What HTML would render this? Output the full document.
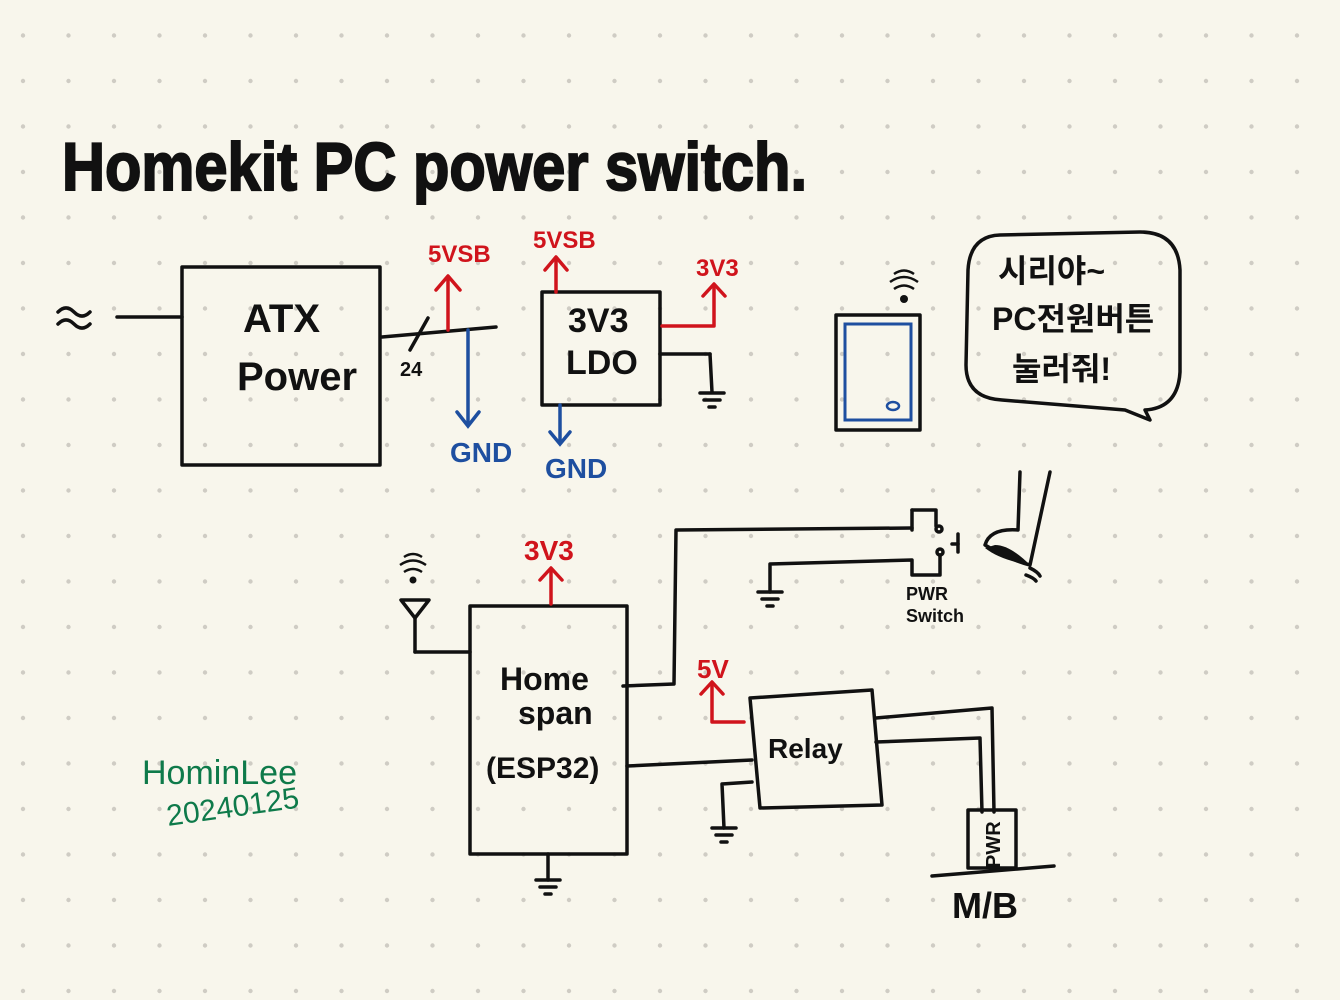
<!DOCTYPE html>
<html><head><meta charset="utf-8"><style>
html,body{margin:0;padding:0;background:#f8f6ec}
svg{display:block}
text{font-family:"Liberation Sans","Noto Sans CJK KR",sans-serif}
</style></head><body>
<svg width="1340" height="1000" viewBox="0 0 1340 1000" xmlns="http://www.w3.org/2000/svg">
<defs>
<pattern id="dots" x="0" y="12.5" width="45.5" height="45.5" patternUnits="userSpaceOnUse">
<circle cx="23" cy="23" r="2.2" fill="#cfccc4"/></pattern>
</defs>
<rect width="1340" height="1000" fill="#f8f6ec"/>
<rect width="1340" height="1000" fill="url(#dots)"/>
<text x="62" y="190" font-size="68" font-weight="bold" fill="#111" textLength="745" lengthAdjust="spacingAndGlyphs" stroke="#111" stroke-width="2">Homekit PC power switch.</text>

<g fill="none" stroke="#111" stroke-width="3.5" stroke-linecap="round" stroke-linejoin="round">
<path d="M58 312 q8 -8 16 0 q8 8 16 0 M58 324 q8 -8 16 0 q8 8 16 0"/>
<line x1="117" y1="317" x2="182" y2="317"/>
<rect x="182" y="267" width="198" height="198"/>
<line x1="382" y1="337" x2="496" y2="327"/>
<line x1="410" y1="350" x2="428" y2="318"/>
<rect x="542" y="292" width="118" height="113"/>
<line x1="660" y1="354" x2="710" y2="354"/><line x1="710" y1="354" x2="712" y2="392"/>
<line x1="700" y1="393" x2="724" y2="393"/><line x1="704" y1="400" x2="720" y2="400"/><line x1="709" y1="407" x2="715" y2="407"/>
<rect x="836" y="315" width="84" height="115"/>
<path d="M1000 235 L1140 232 Q1178 232 1180 270 L1180 372 Q1178 408 1145 410 L1150 420 L1125 410 L1002 400 Q966 398 966 365 L968 270 Q970 236 1000 235 Z"/>
<rect x="470" y="606" width="157" height="248"/>
<line x1="470" y1="652" x2="415" y2="652"/><line x1="415" y1="652" x2="415" y2="618"/>
<path d="M401 600 L429 600 L415 618 Z"/>
<line x1="548" y1="854" x2="548" y2="880"/>
<line x1="536" y1="880" x2="560" y2="880"/><line x1="540" y1="887" x2="556" y2="887"/><line x1="545" y1="894" x2="551" y2="894"/>
<polyline points="623,686 674,684 676,530 912,528"/>
<polyline points="912,510 936,510 936,526"/>
<polyline points="912,510 912,530"/>
<circle cx="939" cy="529" r="3"/>
<circle cx="940" cy="552" r="3"/>
<polyline points="940,555 940,575 912,575 912,560 770,564 770,592"/>
<line x1="958" y1="534" x2="958" y2="552"/><line x1="952" y1="544" x2="958" y2="544"/>
<line x1="758" y1="592" x2="782" y2="592"/><line x1="762" y1="599" x2="778" y2="599"/><line x1="767" y1="606" x2="773" y2="606"/>
<path d="M1020 472 L1018 530 Q990 528 985 545 Q1010 560 1030 565 L1050 472"/>
<path d="M1030 568 q8 4 10 8 M1026 575 q8 3 10 6"/>
<path d="M750 698 L872 690 L882 805 L760 808 Z"/>
<line x1="627" y1="766" x2="752" y2="760"/>
<polyline points="752,782 722,784 724,828"/>
<line x1="712" y1="828" x2="736" y2="828"/><line x1="716" y1="835" x2="732" y2="835"/><line x1="721" y1="842" x2="727" y2="842"/>
<polyline points="876,718 992,708 994,812"/>
<polyline points="876,742 980,738 982,812"/>
<rect x="968" y="810" width="48" height="58"/>
<line x1="932" y1="876" x2="1054" y2="866"/>
</g>
<g fill="#111" stroke="none">
<path d="M995 545 Q1010 545 1030 565 Q1000 560 985 548 Z"/>
<circle cx="904" cy="299" r="4"/><circle cx="413" cy="580" r="3.5"/>
</g>
<g fill="none" stroke="#111" stroke-width="2.5">
<path d="M894 289 q10 -7 20 0 M890 282 q14 -10 28 0 M894 274 q10 -7 20 0"/>
<path d="M404 572 q9 -6 18 0 M400 565 q13 -9 26 0 M404 557 q9 -6 18 0"/>
</g>
<rect x="845" y="324" width="66" height="96" fill="none" stroke="#1e4fa0" stroke-width="3"/>
<ellipse cx="893" cy="406" rx="6" ry="4" fill="none" stroke="#1e4fa0" stroke-width="2.5"/>

<g fill="none" stroke="#d0141c" stroke-width="3.5" stroke-linecap="round" stroke-linejoin="round">
<line x1="448" y1="330" x2="448" y2="278"/><polyline points="436,290 448,276 460,290"/>
<line x1="556" y1="292" x2="556" y2="260"/><polyline points="545,270 556,257 567,270"/>
<polyline points="662,326 714,326 714,286"/><polyline points="703,296 714,284 725,296"/>
<line x1="551" y1="604" x2="551" y2="570"/><polyline points="540,580 551,568 562,580"/>
<polyline points="744,722 712,722 712,684"/><polyline points="701,694 712,682 723,694"/>
</g>
<g fill="none" stroke="#1e4fa0" stroke-width="3.5" stroke-linecap="round">
<line x1="468" y1="330" x2="468" y2="425"/><polyline points="457,412 468,426 479,412"/>
<line x1="560" y1="405" x2="560" y2="442"/><polyline points="550,432 560,444 570,432"/>
</g>

<g font-weight="bold">
<text x="243" y="332" font-size="40" fill="#111">ATX</text>
<text x="237" y="390" font-size="40" fill="#111">Power</text>
<text x="400" y="376" font-size="20" fill="#111">24</text>
<text x="428" y="262" font-size="24" fill="#d0141c">5VSB</text>
<text x="533" y="248" font-size="24" fill="#d0141c">5VSB</text>
<text x="696" y="276" font-size="24" fill="#d0141c">3V3</text>
<text x="524" y="560" font-size="28" fill="#d0141c">3V3</text>
<text x="697" y="678" font-size="26" fill="#d0141c">5V</text>
<text x="450" y="462" font-size="28" fill="#1e4fa0">GND</text>
<text x="545" y="478" font-size="28" fill="#1e4fa0">GND</text>
<text x="568" y="332" font-size="34" fill="#111">3V3</text>
<text x="566" y="374" font-size="34" fill="#111">LDO</text>
<text x="998" y="282" font-size="32" fill="#111">시리야~</text>
<text x="992" y="330" font-size="32" fill="#111">PC전원버튼</text>
<text x="1012" y="380" font-size="32" fill="#111">눌러줘!</text>
<text x="500" y="690" font-size="32" fill="#111">Home</text>
<text x="518" y="724" font-size="32" fill="#111">span</text>
<text x="486" y="778" font-size="30" fill="#111">(ESP32)</text>
<text x="768" y="758" font-size="28" fill="#111">Relay</text>
<text x="906" y="600" font-size="18" fill="#111">PWR</text>
<text x="906" y="622" font-size="18" fill="#111">Switch</text>
<text x="1000" y="868" font-size="20" fill="#111" transform="rotate(-90 1000 868)">PWR</text>
<text x="952" y="918" font-size="36" fill="#111">M/B</text>
<text x="142" y="784" font-size="34" fill="#0e7a4a" font-weight="normal">HominLee</text>
<text x="168" y="826" font-size="30" fill="#0e7a4a" font-weight="normal" transform="rotate(-8 168 826)">20240125</text>
</g>
</svg>
</body></html>
